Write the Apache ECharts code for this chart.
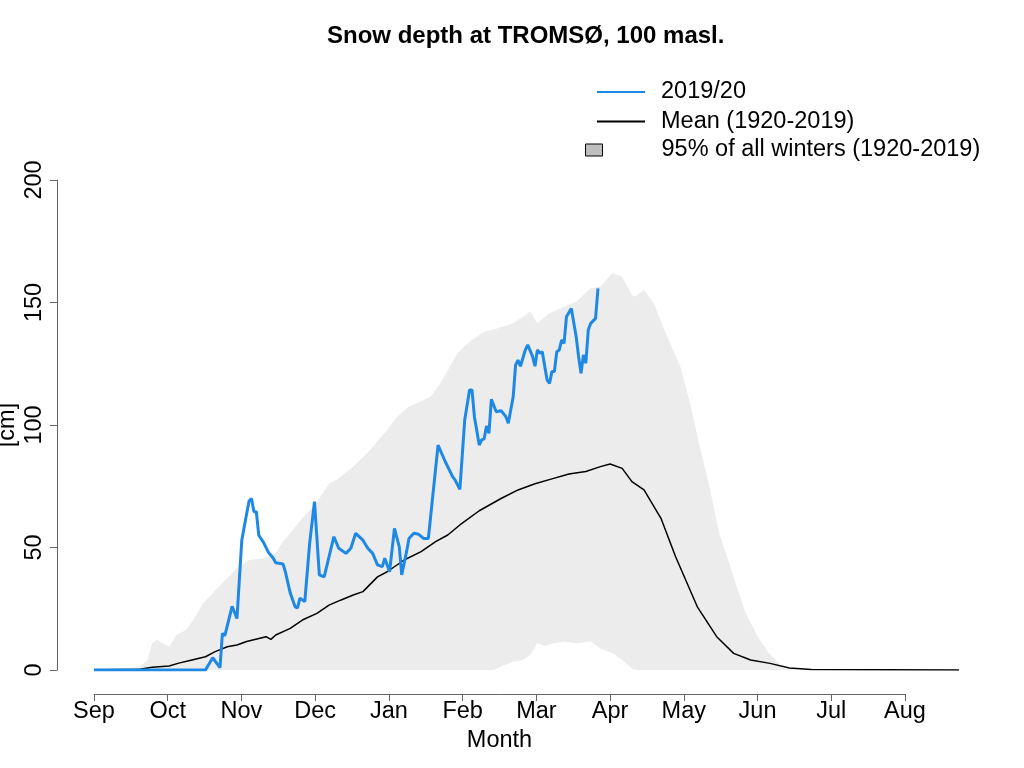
<!DOCTYPE html>
<html>
<head>
<meta charset="utf-8">
<title>Snow depth at TROMSØ</title>
<script src="https://cdn.jsdelivr.net/npm/echarts@6/dist/echarts.min.js"></script>
<style>
  html, body { margin: 0; padding: 0; background: #fff; }
  #chart { width: 1024px; height: 768px; }
</style>
</head>
<body>
<div id="chart"></div>
<script>
// x values are days counted from 1 September
const months = ['Sep', 'Oct', 'Nov', 'Dec', 'Jan', 'Feb', 'Mar', 'Apr', 'May', 'Jun', 'Jul', 'Aug']

// 2019/20 season
const blueDays = [0, 46, 49, 52, 53, 54, 57, 59, 61, 62, 64, 65, 66, 67, 68, 70, 72, 74, 75, 78,
  79, 81, 83, 84, 85, 87, 89, 91, 93, 95, 99, 101, 104, 106, 108, 111, 113, 115, 117, 119,
  120, 122, 124, 126, 127, 129, 130, 132, 134, 136, 138, 142, 145, 148, 149, 151, 153, 155, 156, 157,
  159, 160, 161, 162, 163, 164, 166, 168, 170, 171, 173, 174, 175, 176, 178, 179, 181, 182, 183, 184,
  185, 187, 188, 189, 190, 191, 192, 193, 194, 195, 197, 199, 200, 201, 202, 203, 204, 205, 207, 208]
const blueDepth = [0, 0, 5, 1, 15, 14, 26, 21, 53, 58.5, 69, 70, 64.6, 64.6, 55, 52, 48, 45.6, 43.8, 43.3,
  40, 31.4, 25.8, 25.4, 29.3, 27.9, 51.7, 68.7, 38.8, 38, 54.4, 49.7, 47.6, 49.7, 55.8, 53, 49.7, 47.6, 42.9, 42.2,
  45.6, 40.1, 57.8, 50.3, 38.8, 48.3, 53.7, 55.8, 55.4, 53.7, 53.7, 91.8, 85, 78.9, 77.6, 73.7, 102, 114.3, 114.3, 103.4,
  91.8, 93.9, 94.3, 99.6, 96.6, 110.5, 105.4, 105.8, 103.4, 100.7, 111.5, 124.5, 126.5, 124, 130.6, 132.7, 128, 124, 130.6, 129.3,
  129.9, 118.4, 117, 121.8, 121.8, 129.9, 130.6, 134.7, 133.3, 144.2, 147.6, 136, 127.9, 121.1, 128.6, 125.2, 138.8, 141.5, 143.5, 155.8]

// mean 1920-2019
const meanDays = [0, 19, 24, 31, 35, 40, 46, 50, 55, 59, 63, 71, 73, 75, 81, 86, 92, 97, 102, 107,
  111, 117, 121, 128, 135, 141, 146, 151, 159, 168, 175, 182, 189, 196, 203, 209, 213, 218, 222, 227,
  234, 240, 249, 257, 264, 271, 279, 287, 296, 357]
const meanDepth = [0, 0.3, 1.1, 1.6, 2.8, 4, 5.4, 7.5, 9.5, 10.2, 11.6, 13.6, 12.5, 14.3, 17, 20.4, 23.1, 26.5, 28.6, 30.6,
  32, 38, 40.1, 44.9, 48.3, 52.4, 55.1, 59.2, 65, 70, 73.5, 76, 78, 80, 81, 83, 84.1, 82.3, 76.9, 73.5,
  61.9, 46.3, 25.8, 13.6, 6.8, 4.1, 2.7, 0.8, 0.2, 0]

// 95% band of all winters
const bandDays = [0, 7, 13, 19, 22, 24, 26, 31, 34, 38, 41, 45, 49, 55, 59, 64, 70, 75, 78, 81,
  86, 90, 93, 97, 100, 107, 114, 121, 125, 130, 139, 143, 150, 155, 161, 165, 168, 169, 173, 174,
  177, 180, 183, 186, 188, 194, 199, 205, 209, 214, 218, 222, 223, 224, 227, 231, 236, 242, 246, 250,
  254, 258, 264, 269, 274, 278, 282, 285, 291, 357]
const bandUpper = [0.5, 1, 0.5, 1.4, 4, 10.9, 12.2, 9.5, 14.3, 16.3, 20.4, 27.2, 31.3, 37.4, 41.5, 44.9, 45.6, 47.6, 52.4, 55.8,
  62, 66, 70, 76, 77.6, 83, 89.8, 98, 103.4, 107.5, 111.6, 117, 129.3, 134, 138.1, 139, 140, 140.1, 141.5, 142.2,
  144, 146.3, 141.5, 144, 145.6, 148.3, 150.3, 155.8, 156.5, 162, 160.5, 153, 152.4, 153, 155.1, 149.7, 137.4, 123.8, 108.8, 91.2,
  74.8, 55.8, 38, 23.1, 13.6, 7.5, 3.4, 0.5, 0, 0]
const bandLower = [0, 0, 0, 0, 0, 0, 0, 0, 0, 0, 0, 0, 0, 0, 0, 0, 0, 0, 0, 0,
  0, 0, 0, 0, 0, 0, 0, 0, 0, 0, 0, 0, 0, 0, 0, 0, 1.4, 1.8, 3.4, 3.6,
  4.1, 6.1, 10.9, 9.8, 10.5, 11.6, 10.9, 11.6, 8.8, 6.8, 4.1, 0.7, 0.3, 0, 0, 0, 0, 0, 0, 0,
  0, 0, 0, 0, 0, 0, 0, 0, 0, 0]

const fontFamily = '"Liberation Sans", Arial, sans-serif'
const fontSize = 23.5
const axisGray = '#666666'
const bandGray = '#ececec'

const chart = echarts.init(document.getElementById('chart'))

chart.setOption({
  animation: false,
  backgroundColor: '#ffffff',
  textStyle: { fontFamily: fontFamily },
  title: {
    text: 'Snow depth at TROMSØ, 100 masl.',
    left: 322,
    top: 19,
    textStyle: { fontSize: 24, fontWeight: 'bold', color: '#000', fontFamily: fontFamily }
  },
  legend: [{
    data: [
      { name: '2019/20', icon: 'rect' },
      { name: 'Mean (1920-2019)', icon: 'rect' }
    ],
    orient: 'vertical',
    left: 592,
    top: 75,
    itemWidth: 48,
    itemHeight: 2,
    itemGap: 5.5,
    selectedMode: false,
    textStyle: { fontSize: fontSize, color: '#000', fontFamily: fontFamily, padding: [0, 0, 0, 11] }
  }, {
    data: [{
      name: '95% of all winters (1920-2019)',
      icon: 'rect',
      itemStyle: { color: '#bebebe', borderColor: '#000', borderWidth: 1 }
    }],
    left: 580,
    top: 133,
    itemWidth: 17,
    itemHeight: 12,
    selectedMode: false,
    textStyle: { fontSize: fontSize, color: '#000', fontFamily: fontFamily, padding: [0, 0, 0, 54] }
  }],
  grid: [
    // data area
    { left: 94, right: 65, top: 180, bottom: 98, outerBoundsMode: 'none' },
    // month axis: spans Sep..Aug ticks only, like base R
    { left: 94, width: 811, top: 180, bottom: 74, outerBoundsMode: 'none' },
    // y axis drawn off to the left of the data, like base R
    { left: 57, width: 20, top: 180, bottom: 98, outerBoundsMode: 'none' }
  ],
  xAxis: [{
    type: 'value',
    gridIndex: 0,
    min: 0,
    max: 357,
    show: false
  }, {
    type: 'value',
    gridIndex: 1,
    min: 0,
    max: 11,
    interval: 1,
    axisLine: { show: true, lineStyle: { color: axisGray } },
    axisTick: { show: true, length: 7, lineStyle: { color: axisGray } },
    splitLine: { show: false },
    axisLabel: {
      fontSize: fontSize,
      color: '#000',
      margin: 6,
      formatter: v => months[v]
    },
    name: 'Month',
    nameLocation: 'middle',
    nameGap: 35,
    nameTextStyle: { fontSize: fontSize, color: '#000' }
  }, {
    type: 'value',
    gridIndex: 2,
    min: 0,
    max: 1,
    show: false
  }],
  yAxis: [{
    type: 'value',
    gridIndex: 0,
    min: 0,
    max: 200,
    show: false
  }, {
    type: 'value',
    gridIndex: 1,
    min: 0,
    max: 1,
    show: false
  }, {
    type: 'value',
    gridIndex: 2,
    min: 0,
    max: 200,
    interval: 50,
    axisLine: { show: true, lineStyle: { color: axisGray } },
    axisTick: { show: true, length: 7, lineStyle: { color: axisGray } },
    splitLine: { show: false },
    axisLabel: { rotate: 90, fontSize: fontSize, color: '#000', margin: 10 },
    name: '[cm]',
    nameLocation: 'middle',
    nameRotate: 90,
    nameGap: 37,
    nameTextStyle: { fontSize: fontSize, color: '#000' }
  }],
  series: [{
    name: '95% of all winters (1920-2019)',
    type: 'line',
    symbol: 'none',
    lineStyle: { width: 0, opacity: 0 },
    itemStyle: { color: bandGray },
    areaStyle: { color: bandGray, opacity: 1 },
    data: bandDays.map((d, i) => [d, bandUpper[i]]),
    silent: true
  }, {
    // lower edge of the band, painted back to background
    name: 'lower',
    type: 'line',
    symbol: 'none',
    lineStyle: { width: 0, opacity: 0 },
    itemStyle: { color: '#ffffff' },
    areaStyle: { color: '#ffffff', opacity: 1 },
    data: bandDays.map((d, i) => [d, bandLower[i]]),
    silent: true
  }, {
    name: 'Mean (1920-2019)',
    type: 'line',
    symbol: 'none',
    itemStyle: { color: '#000' },
    lineStyle: { color: '#000', width: 1.5 },
    data: meanDays.map((d, i) => [d, meanDepth[i]])
  }, {
    name: '2019/20',
    type: 'line',
    symbol: 'none',
    itemStyle: { color: '#1e88e5' },
    lineStyle: { color: '#1e88e5', width: 3 },
    data: blueDays.map((d, i) => [d, blueDepth[i]])
  }]
})
</script>
</body>
</html>
